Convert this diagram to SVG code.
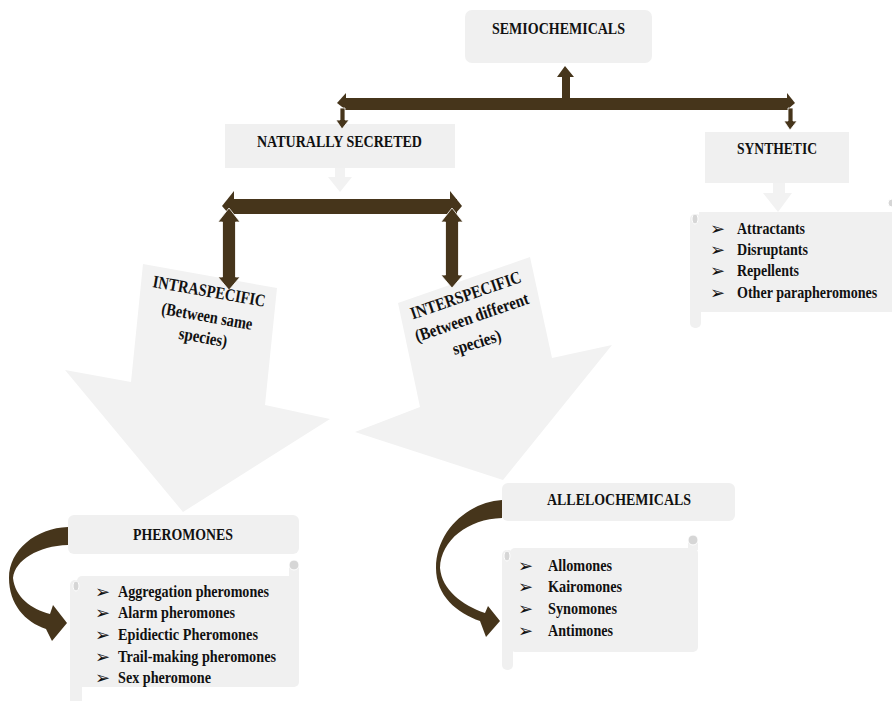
<svg xmlns="http://www.w3.org/2000/svg" width="892" height="701" viewBox="0 0 892 701">
<style>
.box{fill:#f0f0f0}
.lt{fill:#f2f2f2}
.br{fill:#46351b}
.brs{fill:#46351b;stroke:#ffffff;stroke-width:0.8}
.curl{fill:#d6d6d6;stroke:#ffffff;stroke-width:1}
.t{font-family:"Liberation Serif","Times New Roman",serif;font-weight:bold;font-size:17.5px;fill:#111111}
.m{text-anchor:middle}
.b{font-family:"DejaVu Sans",sans-serif;font-size:18px;fill:#111111}
</style>
<rect width="892" height="701" fill="#ffffff"/>

<g id="intraspecific">
<polygon class="lt" points="143,264 277,288 265,405 330,419 183,512 65,370 131,382"/>
</g>
<g id="interspecific">
<polygon class="lt" points="398,303 530,257 552,358 612,345 503,480 355,432 420,407"/>
</g>

<g id="semiochemicals">
<rect class="box" x="465" y="10" width="187" height="53" rx="7"/>
<text class="t m" x="558.5" y="34" textLength="133" lengthAdjust="spacingAndGlyphs">SEMIOCHEMICALS</text>
</g>

<g id="naturally-secreted">
<rect class="box" x="225" y="124" width="230" height="44"/>
<text class="t m" x="339.5" y="147" textLength="165" lengthAdjust="spacingAndGlyphs">NATURALLY SECRETED</text>
<polygon class="lt" points="335,168 345,168 345,177 352,177 340,192 328,177 335,177"/>
</g>

<g id="synthetic">
<rect class="box" x="705" y="132" width="144" height="51"/>
<text class="t m" x="777" y="154" textLength="80" lengthAdjust="spacingAndGlyphs">SYNTHETIC</text>
<polygon class="lt" points="773,183 785,183 785,193 792,193 778,212 763,193 773,193"/>
</g>

<g id="synthetic-list">
<rect class="box" x="690" y="214" width="11" height="114" rx="5"/>
<rect class="box" x="699" y="212" width="200" height="100"/>
<circle class="curl" cx="892" cy="203" r="4"/>
<ellipse class="curl" cx="695" cy="219" rx="3" ry="5"/>
<text class="b" x="710" y="235">➢</text>
<text class="b" x="710" y="256">➢</text>
<text class="b" x="710" y="277">➢</text>
<text class="b" x="710" y="299">➢</text>
<text class="t" x="737" y="234" textLength="68" lengthAdjust="spacingAndGlyphs">Attractants</text>
<text class="t" x="737" y="255" textLength="71" lengthAdjust="spacingAndGlyphs">Disruptants</text>
<text class="t" x="737" y="276" textLength="62" lengthAdjust="spacingAndGlyphs">Repellents</text>
<text class="t" transform="translate(737 298) scale(0.803 1)" x="0" y="0">Other parapheromones</text>
</g>

<g id="pheromones">
<rect class="box" x="68" y="515" width="231" height="39" rx="6"/>
<text class="t m" x="183" y="540" textLength="100" lengthAdjust="spacingAndGlyphs">PHEROMONES</text>
</g>

<g id="pheromones-list">
<rect class="box" x="70" y="580" width="12" height="125" rx="5"/>
<rect class="box" x="77" y="576" width="222" height="111" rx="5"/>
<rect class="box" x="289" y="566" width="10" height="14"/>
<circle class="curl" cx="294" cy="565" r="5"/>
<ellipse class="curl" cx="76" cy="586" rx="3" ry="5"/>
<text class="b" x="95" y="598">➢</text>
<text class="b" x="95" y="619">➢</text>
<text class="b" x="95" y="641">➢</text>
<text class="b" x="95" y="663">➢</text>
<text class="b" x="95" y="684">➢</text>
<text class="t" x="118" y="597" textLength="151" lengthAdjust="spacingAndGlyphs">Aggregation pheromones</text>
<text class="t" x="118" y="618" textLength="117" lengthAdjust="spacingAndGlyphs">Alarm pheromones</text>
<text class="t" x="118" y="640" textLength="140" lengthAdjust="spacingAndGlyphs">Epidiectic Pheromones</text>
<text class="t" x="118" y="662" textLength="158" lengthAdjust="spacingAndGlyphs">Trail-making pheromones</text>
<text class="t" x="118" y="683" textLength="93" lengthAdjust="spacingAndGlyphs">Sex pheromone</text>
</g>

<g id="allelochemicals">
<rect class="box" x="502" y="483" width="233" height="38" rx="6"/>
<text class="t m" x="619" y="505" textLength="144" lengthAdjust="spacingAndGlyphs">ALLELOCHEMICALS</text>
</g>

<g id="allelochemicals-list">
<rect class="box" x="502" y="550" width="11" height="120" rx="5"/>
<rect class="box" x="510" y="548" width="188" height="104" rx="5"/>
<rect class="box" x="688" y="541" width="10" height="9"/>
<circle class="curl" cx="693" cy="540" r="5"/>
<ellipse class="curl" cx="507" cy="556" rx="3" ry="5"/>
<text class="b" x="518" y="572">➢</text>
<text class="b" x="518" y="593">➢</text>
<text class="b" x="518" y="615">➢</text>
<text class="b" x="518" y="637">➢</text>
<text class="t" x="548" y="571" textLength="64" lengthAdjust="spacingAndGlyphs">Allomones</text>
<text class="t" x="548" y="592" textLength="74" lengthAdjust="spacingAndGlyphs">Kairomones</text>
<text class="t" x="548" y="614" textLength="69" lengthAdjust="spacingAndGlyphs">Synomones</text>
<text class="t" x="548" y="636" textLength="65" lengthAdjust="spacingAndGlyphs">Antimones</text>
</g>

<g id="connectors">
<polygon class="br" points="562,98 562,77 557,77 565,66 574,77 570,77 570,98"/>
<rect class="br" x="343" y="98" width="447" height="12"/>
<polygon class="br" points="337,103 346,93 346,110"/>
<polygon class="br" points="795,103 787,93 787,110"/>
<polygon class="brs" points="340,108 345,108 345,120 349,120 342,129 336,120 340,120"/>
<polygon class="brs" points="788,108 793,108 793,121 797,121 790,130 784,121 788,121"/>

<rect class="br" x="231" y="199" width="226" height="15"/>
<polygon class="br" points="222,206 234,191 234,220"/>
<polygon class="br" points="462,206 450,191 450,220"/>
<polygon class="brs" points="229,208 240,222 235.5,222 235.5,277 240,277 229,290 218,277 222.5,277 222.5,222 218,222"/>
<polygon class="brs" points="452,208 463,222 458.5,222 458.5,275 463,275 452,288 441,275 445.5,275 445.5,222 441,222"/>

<path class="br" d="M68,527 C36,528 9,550 9,578 C9,604 25,622 46,629 L52,641 L67,623 L53,605 L50,614 C31,609 15,597 13,578 C15,560 38,546 68,545 Z"/>
<path class="br" d="M502,500 C469,502 436,530 436,568 C436,596 457,613 480,621 L486,637 L500,621 L488,606 L485,613 C462,605 442,590 440,568 C441,540 468,519 502,518 Z"/>
</g>

<g id="intraspecific-label">
<text class="t m" transform="rotate(10 209 292)" x="209" y="297" textLength="114" lengthAdjust="spacingAndGlyphs">INTRASPECIFIC</text>
<text class="t m" transform="rotate(10 207 317)" x="207" y="322" textLength="92" lengthAdjust="spacingAndGlyphs">(Between same</text>
<text class="t m" transform="rotate(10 203 338)" x="203" y="343" textLength="49" lengthAdjust="spacingAndGlyphs">species)</text>
</g>
<g id="interspecific-label">
<text class="t m" transform="rotate(-19 466 296)" x="466" y="301" textLength="116" lengthAdjust="spacingAndGlyphs">INTERSPECIFIC</text>
<text class="t m" transform="rotate(-19 472 318)" x="472" y="323" textLength="119" lengthAdjust="spacingAndGlyphs">(Between different</text>
<text class="t m" transform="rotate(-17 477 343)" x="477" y="348" textLength="50" lengthAdjust="spacingAndGlyphs">species)</text>
</g>
</svg>
